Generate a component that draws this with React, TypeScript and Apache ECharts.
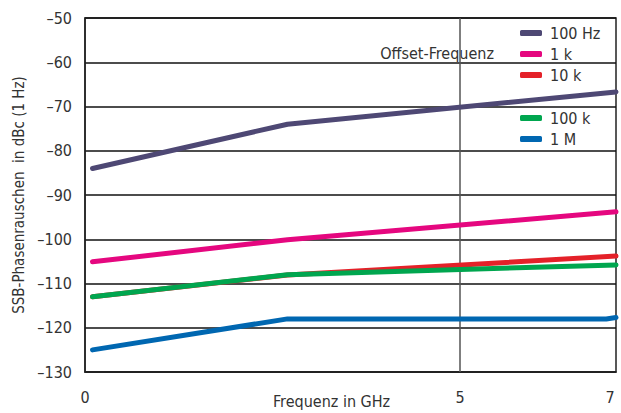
import React, { useEffect, useRef } from "react";
import * as echarts from "echarts";

const FONT = "'DejaVu Sans Condensed', 'Liberation Sans Narrow', 'Roboto', sans-serif";

const seriesNames = ["100 Hz", "1 k", "10 k", "100 k", "1 M"];
const seriesColors = ["#4e4874", "#e5077f", "#e42129", "#00a64f", "#0067b1"];
const freqs = [0.1, 2.7, 7.08];
const hz100 = [-84, -74, -66.7];
const k1 = [-105.1, -100.1, -93.8];
const k10 = [-113, -108.1, -103.8];
const k100 = [-113, -108, -105.8];
const m1Freqs = [0.1, 2.7, 6.95, 7.08];
const m1 = [-125, -118, -118, -117.7];
const xTickLabels = [0, 5, 7];
const markFreqs = [5];
const yTicks = [-130, -120, -110, -100, -90, -80, -70, -60, -50];

const valueSets = [hz100, k1, k10, k100];

export default function App() {
  const ref = useRef<HTMLDivElement>(null);
  useEffect(() => {
    const chart = echarts.init(ref.current!, undefined, { renderer: "svg" });
    const series: any[] = seriesNames.map((name, i) => {
      const xs = i === 4 ? m1Freqs : freqs;
      const ys = i === 4 ? m1 : valueSets[i];
      const s: any = {
        name,
        type: "line",
        data: xs.map((x, j) => [x, ys[j]]),
        showSymbol: false,
        symbol: "none",
        lineStyle: { color: seriesColors[i], width: 5, cap: "round", join: "round" },
        itemStyle: { color: seriesColors[i] },
        z: 3 + i,
      };
      if (i === 0) {
        s.markLine = {
          silent: true,
          symbol: "none",
          label: { show: false },
          lineStyle: { color: "#555", width: 1.5, type: "solid" },
          data: markFreqs.map((f) => ({ xAxis: f })),
          z: 1,
        };
      }
      return s;
    });
    const legendBase = {
      orient: "vertical",
      left: 515,
      icon: "roundRect",
      itemWidth: 22,
      itemHeight: 6,
      itemGap: 5,
      textStyle: { fontSize: 16, color: "#333", fontFamily: FONT, padding: [0, 0, 0, 3] },
    };
    chart.setOption({
      animation: false,
      textStyle: { fontFamily: FONT },
      grid: {
        left: 85,
        right: 5,
        top: 18,
        bottom: 41,
        show: true,
        borderColor: "#222",
        borderWidth: 1.5,
      },
      legend: [
        { ...legendBase, data: seriesNames.slice(0, 3), top: 20 },
        { ...legendBase, data: seriesNames.slice(3), top: 105 },
      ],
      xAxis: {
        type: "value",
        min: 0,
        max: 7.08,
        axisLine: { show: true, lineStyle: { color: "#222", width: 1.5 } },
        axisTick: { show: false },
        splitLine: { show: false },
        axisLabel: {
          customValues: xTickLabels,
          margin: 17,
          fontSize: 16,
          color: "#333",
          fontFamily: FONT,
        },
      },
      yAxis: {
        type: "value",
        min: yTicks[0],
        max: yTicks[yTicks.length - 1],
        interval: 10,
        name: "SSB-Phasenrauschen  in dBc (1 Hz)",
        nameLocation: "middle",
        nameGap: 54,
        nameTextStyle: { fontSize: 15, color: "#333", fontFamily: FONT },
        axisLine: { show: true, lineStyle: { color: "#222", width: 1.5 } },
        axisTick: { show: false },
        splitLine: { show: true, lineStyle: { color: "#111", width: 1.5 } },
        axisLabel: {
          margin: 13,
          fontSize: 16,
          color: "#333",
          fontFamily: FONT,
          formatter: (v: number) => String(v).replace("-", "\u2013"),
        },
      },
      graphic: [
        {
          type: "text",
          left: 273,
          top: 393,
          style: { text: "Frequenz in GHz", fontSize: 16, fill: "#333", fontFamily: FONT },
        },
        {
          type: "text",
          right: 127,
          top: 45,
          style: { text: "Offset-Frequenz", fontSize: 16, fill: "#333", fontFamily: FONT },
        },
      ],
      series,
    });
    return () => chart.dispose();
  }, []);
  return (
    <div
      ref={ref}
      style={{ position: "absolute", left: 0, top: 0, width: 621, height: 413 }}
    />
  );
}
